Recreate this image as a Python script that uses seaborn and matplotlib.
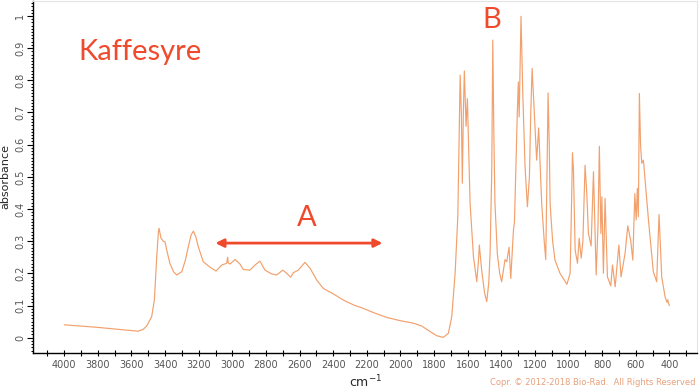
import numpy as np
import pandas as pd
import seaborn as sns
import matplotlib.pyplot as plt
from matplotlib.ticker import MultipleLocator, FuncFormatter

# spectrum (wavenumber cm-1, absorbance)
wavenumber = [4000, 3900, 3800, 3700, 3600, 3560, 3530, 3510, 3480, 3464, 3450, 3440, 3436, 3425, 3411,
              3401, 3385, 3371, 3350, 3331, 3301, 3280, 3262, 3245, 3232, 3218, 3203, 3173, 3133, 3097,
              3063, 3034, 3028, 3024, 3014, 2984, 2955, 2935, 2895, 2865, 2836, 2806, 2766, 2736, 2700,
              2677, 2653, 2637, 2608, 2568, 2538, 2498, 2459, 2399, 2340, 2280, 2221, 2161, 2082, 2003,
              1923, 1873, 1824, 1784, 1745, 1715, 1695, 1675, 1659, 1650, 1645, 1638, 1632, 1626, 1620,
              1614, 1610, 1602, 1595, 1586, 1576, 1566, 1546, 1536, 1531, 1524, 1517, 1500, 1487, 1475,
              1467, 1457, 1451, 1445, 1438, 1424, 1410, 1398, 1385, 1378, 1368, 1354, 1344, 1335, 1328,
              1322, 1314, 1305, 1299, 1294, 1283, 1272, 1259, 1245, 1233, 1225, 1217, 1208, 1200, 1190,
              1178, 1170, 1160, 1145, 1136, 1130, 1122, 1115, 1110, 1095, 1081, 1051, 1010, 991, 983,
              977, 971, 961, 947, 937, 925, 915, 902, 892, 882, 866, 852, 836, 825, 817,
              808, 802, 793, 783, 769, 749, 739, 723, 701, 688, 664, 648, 630, 618, 606,
              598, 591, 585, 579, 572, 565, 555, 540, 525, 496, 476, 462, 446, 426, 415,
              410, 406, 400]
absorbance = [0.040, 0.036, 0.032, 0.027, 0.022, 0.020, 0.026, 0.036, 0.065, 0.117, 0.250, 0.330, 0.340, 0.310, 0.300,
              0.298, 0.260, 0.230, 0.205, 0.195, 0.205, 0.240, 0.283, 0.320, 0.331, 0.315, 0.283, 0.236, 0.219, 0.207,
              0.226, 0.231, 0.250, 0.232, 0.229, 0.243, 0.229, 0.212, 0.210, 0.226, 0.238, 0.210, 0.198, 0.195, 0.210,
              0.200, 0.188, 0.202, 0.210, 0.234, 0.216, 0.179, 0.153, 0.136, 0.117, 0.102, 0.091, 0.078, 0.063, 0.053,
              0.045, 0.036, 0.019, 0.006, 0.001, 0.014, 0.065, 0.200, 0.376, 0.650, 0.816, 0.700, 0.480, 0.700, 0.829,
              0.720, 0.657, 0.743, 0.600, 0.418, 0.334, 0.252, 0.174, 0.240, 0.288, 0.250, 0.210, 0.140, 0.112, 0.170,
              0.262, 0.520, 0.925, 0.650, 0.418, 0.262, 0.200, 0.174, 0.220, 0.243, 0.236, 0.281, 0.184, 0.270, 0.334,
              0.360, 0.520, 0.700, 0.795, 0.686, 0.999, 0.750, 0.531, 0.407, 0.500, 0.700, 0.837, 0.740, 0.655, 0.552,
              0.652, 0.550, 0.417, 0.300, 0.243, 0.450, 0.761, 0.600, 0.417, 0.300, 0.241, 0.200, 0.166, 0.200, 0.400,
              0.575, 0.520, 0.272, 0.231, 0.309, 0.247, 0.300, 0.536, 0.450, 0.324, 0.285, 0.516, 0.195, 0.350, 0.595,
              0.324, 0.438, 0.200, 0.433, 0.189, 0.161, 0.226, 0.158, 0.288, 0.189, 0.262, 0.348, 0.300, 0.241, 0.448,
              0.366, 0.464, 0.376, 0.759, 0.600, 0.542, 0.552, 0.460, 0.366, 0.205, 0.174, 0.383, 0.189, 0.127, 0.110,
              0.118, 0.107, 0.100]

x_ticks = list(range(4000, 399, -200))
y_ticks = [0, 0.1, 0.2, 0.3, 0.4, 0.5, 0.6, 0.7, 0.8, 0.9, 1.0]

df = pd.DataFrame({'wavenumber': wavenumber, 'absorbance': absorbance})

sns.set_style('white')
plt.rcParams['font.family'] = ['DejaVu Sans']

fig = plt.figure(figsize=(7, 3.92), dpi=100)
ax = fig.add_axes([0.0476, 0.100, 0.9484, 0.897])

sns.lineplot(data=df, x='wavenumber', y='absorbance', sort=False, estimator=None,
             color='#f2a06c', linewidth=0.85, ax=ax)

ax.set_xlim(4184, 235)
ax.set_ylim(-0.047, 1.046)

ax.set_xticks(x_ticks)
ax.xaxis.set_minor_locator(MultipleLocator(100))
ax.set_yticks(y_ticks)
ax.yaxis.set_minor_locator(MultipleLocator(0.01))
ax.yaxis.set_major_formatter(FuncFormatter(lambda v, p: f'{v:g}'))

ax.tick_params(axis='x', which='both', bottom=True, direction='inout', length=5, width=0.8,
               colors='black', labelcolor='#555555', labelsize=7, pad=3)
ax.tick_params(axis='y', which='major', left=True, direction='out', length=4, width=0.8,
               colors='black', labelcolor='#555555', labelsize=7, pad=2)
ax.tick_params(axis='y', which='minor', left=True, direction='out', length=1.6, width=0.7, colors='black')
for lab in ax.get_yticklabels():
    lab.set_rotation(90)
    lab.set_va('center')

for side in ['top', 'right']:
    ax.spines[side].set_color('#e4e4e4')
    ax.spines[side].set_linewidth(0.8)
for side in ['left', 'bottom']:
    ax.spines[side].set_color('black')
    ax.spines[side].set_linewidth(1.0)

ax.set_xlabel('cm$^{-1}$', fontsize=9, labelpad=2)
ax.set_ylabel('absorbance', fontsize=8, labelpad=3)

red = '#f04a2c'
ax.text(3918, 0.887, 'Kaffesyre', color=red, fontsize=21, family='Lato', ha='left', va='center')
ax.text(2556, 0.372, 'A', color=red, fontsize=21, family='Lato', ha='center', va='center')
ax.text(1455, 0.987, 'B', color=red, fontsize=21, family='Lato', ha='center', va='center')
ax.annotate('', xy=(2107, 0.294), xytext=(3101, 0.294),
            arrowprops=dict(arrowstyle='<|-|>', color=red, lw=2, mutation_scale=12,
                            shrinkA=0, shrinkB=0))

fig.text(0.994, 0.012, 'Copr. \u00a9 2012-2018 Bio-Rad.  All Rights Reserved',
         color='#e8a07a', fontsize=6, ha='right', va='bottom')

plt.savefig('out.png', dpi=100)
